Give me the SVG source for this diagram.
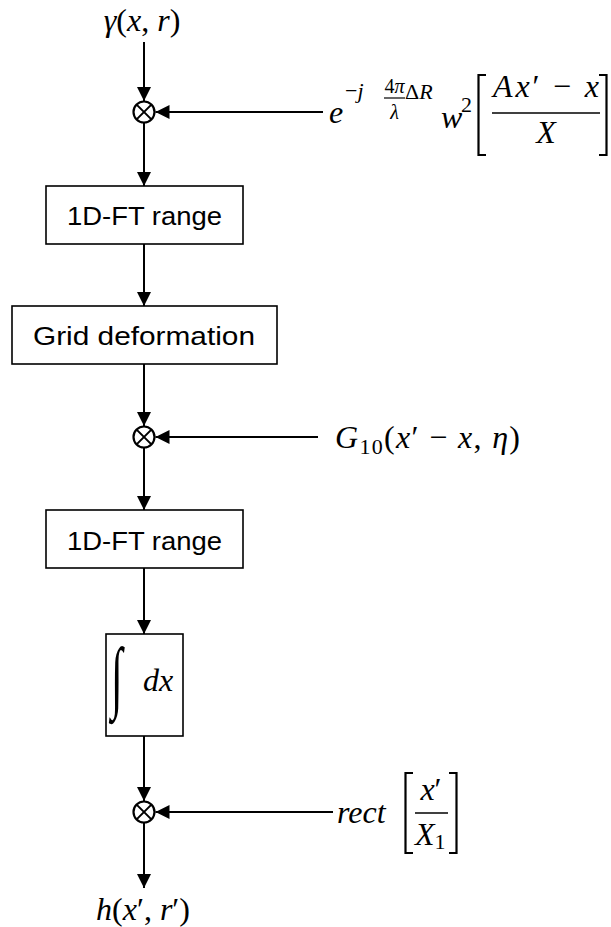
<svg xmlns="http://www.w3.org/2000/svg" width="611" height="927" viewBox="0 0 611 927">
<style>
.box{fill:#fff;stroke:#000;stroke-width:1.6}
.lbl{font-family:"Liberation Sans",Arial,sans-serif;font-size:25px;fill:#000}
.m{font-family:"Liberation Serif","Times New Roman",serif;font-size:32px;fill:#000}
.i{font-style:italic}
.s{font-size:22px}
.xs{font-size:20px}
.conn{stroke:#000;stroke-width:2;fill:none}
.mul{fill:#fff;stroke:#000;stroke-width:2.2}
.br{stroke:#000;stroke-width:2.2;fill:none}
</style>
<defs>
<marker id="ah" markerUnits="userSpaceOnUse" markerWidth="15" markerHeight="15" refX="14" refY="7" orient="auto">
<path d="M0,0 L14,7 L0,14 z" fill="#000"/>
</marker>
</defs>

<g id="connectors">
<path class="conn" d="M144 42 V101" marker-end="url(#ah)"/>
<path class="conn" d="M323 112 H155.5" marker-end="url(#ah)"/>
<path class="conn" d="M144 123 V186" marker-end="url(#ah)"/>
<path class="conn" d="M144 244 V306" marker-end="url(#ah)"/>
<path class="conn" d="M144 364 V426" marker-end="url(#ah)"/>
<path class="conn" d="M318 437 H155.5" marker-end="url(#ah)"/>
<path class="conn" d="M144 448 V510" marker-end="url(#ah)"/>
<path class="conn" d="M144 568 V634" marker-end="url(#ah)"/>
<path class="conn" d="M144 736 V801" marker-end="url(#ah)"/>
<path class="conn" d="M333 812 H155.5" marker-end="url(#ah)"/>
<path class="conn" d="M144 823 V888" marker-end="url(#ah)"/>
</g>

<g id="input">
<text class="m" x="142" y="31" text-anchor="middle"><tspan class="i">γ</tspan>(<tspan class="i">x</tspan>, <tspan class="i">r</tspan>)</text>
</g>

<g id="mult1">
<circle class="mul" cx="144" cy="112" r="10.5"/>
<path class="conn" d="M136.6 104.6 L151.4 119.4 M151.4 104.6 L136.6 119.4"/>
</g>

<g id="factor1">
<text class="m i" x="329" y="123">e</text>
<text class="m s" x="345" y="98">−<tspan class="i">j</tspan></text>
<text class="m xs" x="394.5" y="93" text-anchor="middle">4<tspan class="i">π</tspan></text>
<line x1="384" y1="98" x2="405" y2="98" stroke="#000" stroke-width="1.2"/>
<text class="m xs i" x="394.5" y="119" text-anchor="middle">λ</text>
<text class="m s" x="405" y="99">Δ<tspan class="i">R</tspan></text>
<text class="m i" x="441" y="128">w</text>
<text class="m s" x="461" y="112">2</text>
<path class="br" d="M486 75 H478.5 V155 H486"/>
<path class="br" d="M599 75 H606.5 V155 H599"/>
<text class="m" x="546" y="97" text-anchor="middle" textLength="106" lengthAdjust="spacing"><tspan class="i">Ax</tspan>′ − <tspan class="i">x</tspan></text>
<line x1="492" y1="113" x2="600" y2="113" stroke="#000" stroke-width="1.4"/>
<text class="m i" x="546" y="143" text-anchor="middle">X</text>
</g>

<g id="ft1">
<rect class="box" x="46" y="186" width="197" height="58"/>
<text class="lbl" x="144.5" y="225" text-anchor="middle" textLength="155" lengthAdjust="spacingAndGlyphs">1D-FT range</text>
</g>

<g id="grid">
<rect class="box" x="12" y="306" width="265" height="58"/>
<text class="lbl" x="144" y="345" text-anchor="middle" textLength="222" lengthAdjust="spacingAndGlyphs">Grid deformation</text>
</g>

<g id="mult2">
<circle class="mul" cx="144" cy="437" r="10.5"/>
<path class="conn" d="M136.6 429.6 L151.4 444.4 M151.4 429.6 L136.6 444.4"/>
</g>

<g id="factor2">
<text class="m" x="335" y="448" textLength="185" lengthAdjust="spacing"><tspan class="i">G</tspan><tspan class="s" dy="6">10</tspan><tspan dy="-6">(</tspan><tspan class="i">x</tspan>′ − <tspan class="i">x</tspan>, <tspan class="i">η</tspan>)</text>
</g>

<g id="ft2">
<rect class="box" x="46" y="510" width="197" height="58"/>
<text class="lbl" x="144.5" y="550" text-anchor="middle" textLength="155" lengthAdjust="spacingAndGlyphs">1D-FT range</text>
</g>

<g id="integral">
<rect class="box" x="106" y="634" width="77" height="102"/>
<text class="i" x="0" y="0" transform="translate(111,703) scale(1,1.9)" style="font-family:'Liberation Serif',serif;font-size:42px">∫</text>
<text class="m i" x="143" y="691">dx</text>
</g>

<g id="mult3">
<circle class="mul" cx="144" cy="812" r="10.5"/>
<path class="conn" d="M136.6 804.6 L151.4 819.4 M151.4 804.6 L136.6 819.4"/>
</g>

<g id="factor3">
<text class="m i" x="337" y="823">rect</text>
<path class="br" d="M413 773 H405.5 V853 H413"/>
<path class="br" d="M449 773 H456.5 V853 H449"/>
<text class="m" x="431" y="800" text-anchor="middle"><tspan class="i">x</tspan>′</text>
<line x1="415" y1="813" x2="448" y2="813" stroke="#000" stroke-width="1.4"/>
<text class="m" x="415" y="845"><tspan class="i">X</tspan><tspan class="s" dy="4">1</tspan></text>
</g>

<g id="output">
<text class="m" x="143" y="920" text-anchor="middle"><tspan class="i">h</tspan>(<tspan class="i">x</tspan>′, <tspan class="i">r</tspan>′)</text>
</g>
</svg>
